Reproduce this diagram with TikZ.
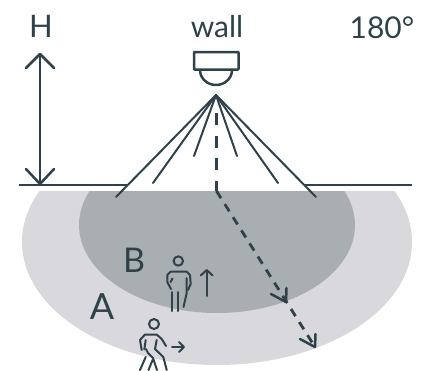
\documentclass[tikz,border=0pt]{standalone}
\usepackage{fontspec}
\setmainfont{Lato}
\definecolor{ink}{HTML}{2F4249}
\definecolor{zoneA}{HTML}{D8D8DD}
\definecolor{zoneB}{HTML}{A9AEB1}
\tikzset{
  ln/.style={draw=ink,line width=2.2pt,line cap=round,line join=round},
  ray/.style={ln,line width=2pt},
  thick line/.style={ln,line width=2.5pt},
  dash line/.style={ln,line width=2.8pt,line cap=butt},
  icon/.style={ln,line width=2pt},
  lab/.style={text=ink,inner sep=0pt,anchor=base},
}
\begin{document}
\begin{tikzpicture}[x=1pt,y=-1pt]
\useasboundingbox (0,0) rectangle (425,370);
% zones
\begin{scope}
\clip (0,191) rectangle (425,370);
\fill[zoneA] (217,242) ellipse [x radius=195,y radius=123];
\fill[zoneB] (217,225) ellipse [x radius=138,y radius=88];
\end{scope}
% labels
\node[lab,font=\fontsize{31}{31}\selectfont] (h) at (41,37) {H};
\node[lab,font=\fontsize{30}{30}\selectfont] (wall) at (217,37) {wall};
\node[lab,font=\fontsize{30}{30}\selectfont] (deg) at (382,38) {180°};
\node[lab,font=\fontsize{34}{34}\selectfont] (b) at (134,272) {B};
\node[lab,font=\fontsize{36}{36}\selectfont] (a) at (102,319) {A};
% ground
\coordinate (gl1) at (19,185); \coordinate (gl2) at (127,185);
\coordinate (gr1) at (305,185); \coordinate (gr2) at (412,185);
\draw[thick line,line cap=butt] (gl1) -- (gl2);
\draw[thick line,line cap=butt] (gr1) -- (gr2);
% height arrow
\coordinate (ht) at (40,54); \coordinate (hb) at (40,184);
\draw[thick line] (ht) -- (hb);
\draw[thick line] (26,68) -- (ht) -- (54,68);
\draw[thick line] (26,169) -- (hb) -- (54,169);
% camera
\draw[ln,line width=2.5pt,rounded corners=0.6pt] (194,52) rectangle (238.5,69.5);
\draw[ln,line width=2.5pt] (200,70) arc[start angle=180,end angle=0,x radius=16,y radius=15];
% rays
\coordinate (apex) at (216,95);
\foreach \p in {(116,197),(153,183),(194,156),(237,156),(278,183),(316,197)}
  \draw[ray] (apex) -- \p;
% dashed
\coordinate (d0) at (216.5,113);
\coordinate (d1) at (216.5,191);
\coordinate (d2) at (315,347);
\draw[dash line,dash pattern=on 12pt off 10.5pt] (d0) -- (d1);
\draw[dash line,dash pattern=on 8.5pt off 7pt] (d1) -- (d2);
\draw[ln,line width=2.5pt] (271,294) -- (286,302) -- (286.5,288);
\draw[ln,line width=2.5pt] (300,339) -- (315,347) -- (315.5,334);
% person B
\draw[icon] (178.3,261) circle (4.7);
\draw[icon] (171,289) -- (167.3,282) -- (167.3,275) -- (170.5,271.7) -- (186.7,271.7) -- (190,275) -- (190.7,284) -- (188,290);
\draw[icon] (172.5,278.5) -- (170.5,282);
\draw[icon] (186.5,278) -- (186.5,294) -- (183.5,307);
\draw[icon] (171.7,292) -- (171.7,311);
\draw[icon] (178.3,292) -- (178.3,311);
\draw[icon] (206.7,296) -- (206.7,271);
\draw[icon] (200.7,275.5) -- (206.7,270) -- (212.7,275.5);
% person A
\draw[icon] (154,324) circle (5);
\draw[icon] (141.7,350) -- (140,340) -- (145,334.5) -- (156.7,334.5) -- (161.7,339) -- (166,346);
\draw[icon] (145.7,340) -- (144.3,349.5);
\draw[icon] (156.7,340) -- (155,349) -- (163.3,357) -- (166.7,370);
\draw[icon] (146,349) -- (148,353) -- (153,358) -- (157,370);
\draw[icon] (140,370) -- (145.7,357);
\draw[icon] (148.5,370) -- (153,359);
\draw[icon] (172,347) -- (183.5,347);
\draw[icon] (179,342) -- (184,347) -- (179,352);
\end{tikzpicture}
\end{document}
